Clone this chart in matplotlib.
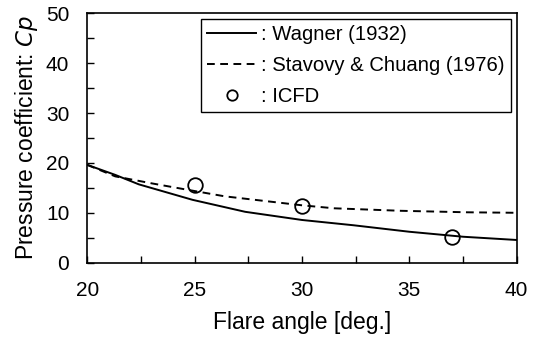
from matplotlib import pyplot as plt
from matplotlib.ticker import MultipleLocator

plt.rcParams['font.family'] = ['Liberation Sans', 'DejaVu Sans']

# Wagner (1932) curve
wagner_angle = [20.0, 21.3, 22.4, 24.9, 27.35, 30.0, 32.4, 35.0, 37.5, 40.0]
wagner_cp = [19.6, 17.6, 15.7, 12.6, 10.2, 8.56, 7.5, 6.2, 5.2, 4.55]

# Stavovy & Chuang (1976) curve
stavovy_angle = [20.0, 21.3, 23.0, 24.55, 26.4, 28.6, 30.0, 31.5, 34.6, 37.7, 40.0]
stavovy_cp = [19.6, 17.3, 15.9, 14.7, 13.3, 12.2, 11.5, 10.9, 10.4, 10.1, 10.0]

# ICFD results
icfd_angle = [25, 30, 37]
icfd_cp = [15.6, 11.4, 5.2]


def main():
    fig = plt.figure(figsize=(5.39, 3.40), dpi=100)
    ax = fig.add_axes([0.162, 0.2274, 0.7966, 0.7337])

    ax.plot(wagner_angle, wagner_cp, color='k', linewidth=1.4, label=': Wagner (1932)')
    ax.plot(stavovy_angle, stavovy_cp, color='k', linewidth=1.4, linestyle=(0, (4, 2.8)),
            label=': Stavovy & Chuang (1976)')
    ax.plot(icfd_angle, icfd_cp, linestyle='', marker='o', markersize=10.5,
            markerfacecolor='none', markeredgecolor='k', markeredgewidth=1.3, label=': ICFD')

    ax.set_xlim(20, 40)
    ax.set_ylim(0, 50)
    ax.xaxis.set_major_locator(MultipleLocator(5))
    ax.xaxis.set_minor_locator(MultipleLocator(2.5))
    ax.yaxis.set_major_locator(MultipleLocator(10))
    ax.yaxis.set_minor_locator(MultipleLocator(5))
    ax.tick_params(which='both', direction='in', length=5, width=1, labelsize=15,
                   top=False, right=False, pad=13)
    for s in ax.spines.values():
        s.set_linewidth(1.2)

    ax.set_xlabel('Flare angle [deg.]', fontsize=16.5, labelpad=8)
    ax.set_ylabel('Pressure coefficient: $Cp$', fontsize=16.5, labelpad=4)

    leg = ax.legend(loc='upper right', fontsize=14.6, frameon=True, fancybox=False,
                    edgecolor='k', framealpha=1, handlelength=2.4, handletextpad=0.25,
                    borderpad=0.3, labelspacing=0.58, borderaxespad=0.3)
    leg.get_frame().set_linewidth(1.0)
    leg.legend_handles[2].set_markersize(7.5)

    plt.savefig('out.png', dpi=100)


if __name__ == "__main__":
    main()
